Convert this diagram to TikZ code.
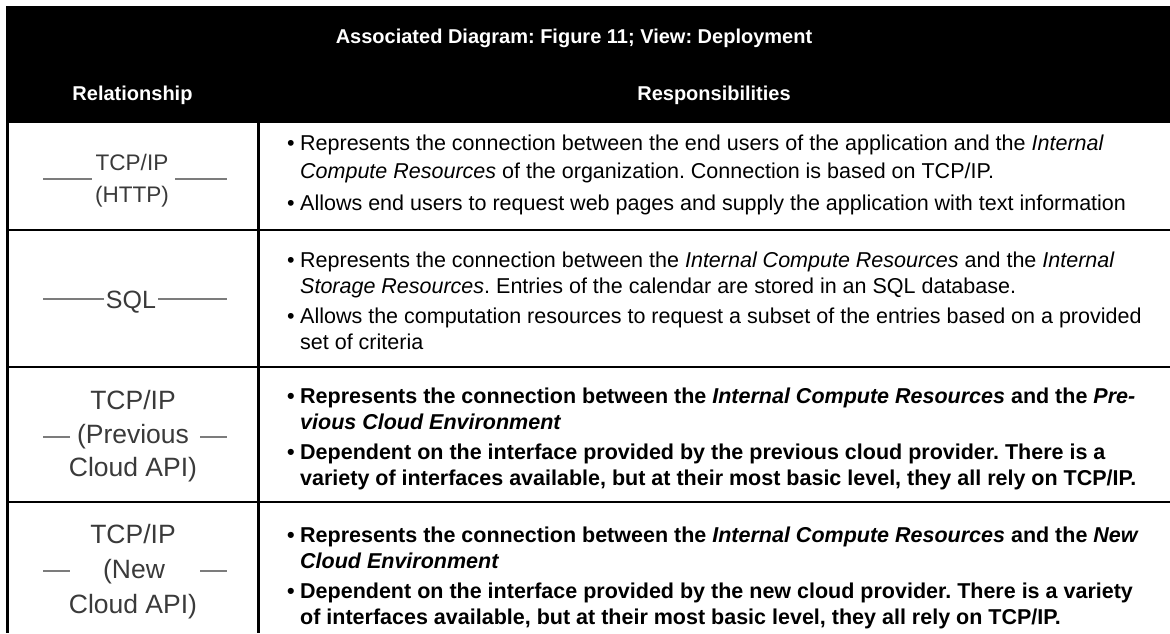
\documentclass[tikz,border=0pt]{standalone}
\usepackage{fontspec}
\setmainfont{Liberation Sans}
\usepackage{array}
\frenchspacing
\definecolor{labelgray}{HTML}{3A3A3A}
\definecolor{linkgray}{HTML}{7C7C7C}
\newcommand{\cellfont}{\fontsize{21.5}{26}\selectfont}
\newcommand{\widecellfont}{\fontsize{21.5}{28}\selectfont}
\newcommand{\itemgap}{\\[4pt]}
\begin{document}
\begin{tikzpicture}[x=1pt,y=-1pt,
  rule/.style={line width=2.7pt, draw=black},
  conn/.style={line width=2.8pt, draw=linkgray},
  hdr/.style={text=white, font=\fontsize{20}{24}\selectfont\bfseries, inner sep=0pt, anchor=base},
  lbl/.style={text=labelgray, inner sep=0pt, anchor=base},
  lblA/.style={lbl, font=\fontsize{22.5}{26}\selectfont},
  lblB/.style={lbl, font=\fontsize{25}{28}\selectfont},
  lblC/.style={lbl, font=\fontsize{26.5}{30}\selectfont},
  cell/.style={inner sep=0pt, anchor=west, align=left, font=\cellfont},
  boldcell/.style={cell, font=\cellfont\bfseries}
]
\useasboundingbox (0,0) rectangle (1170,633);
\fill[white] (0,0) rectangle (1170,633);

% header band
\fill[black] (6,6) rectangle (1170,123);
\node[hdr] (title) at (574,43) {Associated Diagram: Figure 11; View: Deployment};
\node[hdr] (relhead) at (132.5,100) {Relationship};
\node[hdr] (resphead) at (714,100) {Responsibilities};

% grid rules
\draw[rule] (7.35,123) -- (7.35,633);
\draw[rule] (258.7,123) -- (258.7,633);
\draw[rule] (6,230) -- (1170,230);
\draw[rule] (6,367) -- (1170,367);
\draw[rule] (6,502) -- (1170,502);

% row 1: TCP/IP (HTTP)
\node[lblA] (tcpA) at (132,170) {TCP/IP};
\node[lblA] (httpA) at (132,202) {(HTTP)};
\coordinate (aL1) at (43,179); \coordinate (aL2) at (92,179);
\coordinate (aR1) at (175,179); \coordinate (aR2) at (227,179);
\draw[conn] (aL1) -- (aL2);
\draw[conn] (aR1) -- (aR2);

% row 2: SQL
\node[lblB] (sql) at (131,308) {SQL};
\coordinate (bL1) at (43,299); \coordinate (bR2) at (227,299);
\draw[conn] (bL1) -- ([xshift=-2pt]sql.west |- bL1);
\draw[conn] ([xshift=2pt]sql.east |- bR2) -- (bR2);

% row 3: TCP/IP (Previous Cloud API)
\node[lblC] (tcpC) at (133,409) {TCP/IP};
\node[lblC] (prevC) at (133,443) {(Previous};
\node[lblC] (apiC) at (133,476) {Cloud API)};
\coordinate (cL1) at (43,437); \coordinate (cL2) at (70,437);
\coordinate (cR1) at (200,437); \coordinate (cR2) at (227,437);
\draw[conn] (cL1) -- (cL2);
\draw[conn] (cR1) -- (cR2);

% row 4: TCP/IP (New Cloud API)
\node[lblC] (tcpD) at (133,543) {TCP/IP};
\node[lblC] (newD) at (134,578) {(New};
\node[lblC] (apiD) at (133,613) {Cloud API)};
\coordinate (dL1) at (43,571); \coordinate (dL2) at (70,571);
\coordinate (dR1) at (200,571); \coordinate (dR2) at (227,571);
\draw[conn] (dL1) -- (dL2);
\draw[conn] (dR1) -- (dR2);

% responsibilities
\node[cell, font=\widecellfont] (respA) at (287,175) {\begin{tabular}{@{}p{13pt}@{}l@{}}
\textbullet & Represents the connection between the end users of the application and the \textit{Internal}\\
 & \textit{Compute Resources} of the organization. Connection is based on TCP/IP.\itemgap
\textbullet & Allows end users to request web pages and supply the application with text information
\end{tabular}};

\node[cell] (respB) at (287,303) {\begin{tabular}{@{}p{13pt}@{}l@{}}
\textbullet & Represents the connection between the \textit{Internal Compute Resources} and the \textit{Internal}\\
 & \textit{Storage Resources}. Entries of the calendar are stored in an SQL database.\itemgap
\textbullet & Allows the computation resources to request a subset of the entries based on a provided\\
 & set of criteria
\end{tabular}};

\node[boldcell] (respC) at (287,439) {\begin{tabular}{@{}p{13pt}@{}l@{}}
\textbullet & Represents the connection between the \textit{Internal Compute Resources} and the \textit{Pre-}\\
 & \textit{vious Cloud Environment}\itemgap
\textbullet & Dependent on the interface provided by the previous cloud provider. There is a\\
 & variety of interfaces available, but at their most basic level, they all rely on TCP/IP.
\end{tabular}};

\node[boldcell] (respD) at (287,578) {\begin{tabular}{@{}p{13pt}@{}l@{}}
\textbullet & Represents the connection between the \textit{Internal Compute Resources} and the \textit{New}\\
 & \textit{Cloud Environment}\itemgap
\textbullet & Dependent on the interface provided by the new cloud provider. There is a variety\\
 & of interfaces available, but at their most basic level, they all rely on TCP/IP.
\end{tabular}};
\end{tikzpicture}
\end{document}
